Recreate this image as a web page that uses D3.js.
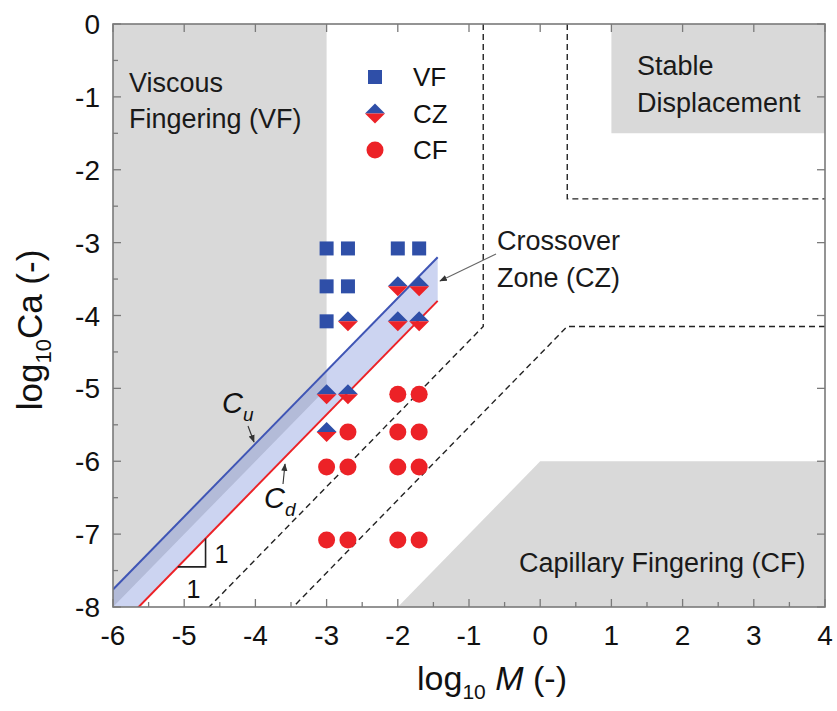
<!DOCTYPE html>
<html>
<head>
<meta charset="utf-8">
<script src="https://cdn.jsdelivr.net/npm/d3@7"></script>
<style>
  html, body { margin: 0; padding: 0; background: #fff; }
  svg { display: block; font-family: "Liberation Sans", Arial, sans-serif; }
</style>
</head>
<body>
<svg id="chart" width="837" height="711"></svg>
<script>
// ---- data ----
const xDomain = [-6, 4];
const yDomain = [0, -8];
const xTicks = [-6, -5, -4, -3, -2, -1, 0, 1, 2, 3, 4];
const yTicks = [0, -1, -2, -3, -4, -5, -6, -7, -8];

// log10 M values of the experiments (columns) and log10 Ca values (rows)
const expM = [-3, -2.7, -2, -1.7];
const expCa = [-3.08, -3.6, -4.08, -5.08, -5.6, -6.08, -7.08];
// observed regime per column, listed row by row
const regimeByColumn = [
  ["VF", "VF", "VF", "CZ", "CZ", "CF", "CF"],
  ["VF", "VF", "CZ", "CZ", "CF", "CF", "CF"],
  ["VF", "CZ", "CZ", "CF", "CF", "CF", "CF"],
  ["VF", "CZ", "CZ", "CF", "CF", "CF", "CF"]
];

// crossover boundaries: log10 Ca = log10 M - c
const cUpper = 1.76;   // C_u
const cLower = 2.36;   // C_d
const cVFedge = 2.0;   // lower edge of viscous fingering region
const bandEndM = -1.44;

// region outlines in (log10 M, log10 Ca)
const vfRegion = [[-6, 0], [-3, 0], [-3, -3 - cVFedge], [-6, -6 - cVFedge]];
const stableRegion = [[1, 0], [4, 0], [4, -1.5], [1, -1.5]];
const cfRegion = [[-2, -8], [0, -6], [4, -6], [4, -8]];
const dashedPaths = [
  [[-0.8, 0], [-0.8, -4.15], [-4.65, -8]],
  [[0.38, 0], [0.38, -2.4], [4, -2.4]],
  [[4, -4.15], [0.38, -4.15], [-3.47, -8]]
];

// ---- layout ----
const svg = d3.select("#chart");
const pLeft = 113, pRight = 825, pTop = 24, pBottom = 607;
const x = d3.scaleLinear().domain(xDomain).range([pLeft, pRight]);
const y = d3.scaleLinear().domain(yDomain).range([pTop, pBottom]);

const GRAY = "#d9d9d9";
const BLUE = "#2f4fa8";
const RED = "#ec2227";
const line = d3.line().x(d => x(d[0])).y(d => y(d[1]));

svg.append("clipPath").attr("id", "plotclip")
  .append("rect").attr("x", pLeft).attr("y", pTop)
  .attr("width", pRight - pLeft).attr("height", pBottom - pTop);

const plot = svg.append("g").attr("clip-path", "url(#plotclip)");

// shaded regimes
[vfRegion, stableRegion, cfRegion].forEach(poly => {
  plot.append("path").attr("d", line(poly) + "Z").attr("fill", GRAY);
});

// crossover band between C_u and C_d
const bandStart = -6;
const band = [
  [bandStart, bandStart - cUpper], [bandEndM, bandEndM - cUpper],
  [bandEndM, bandEndM - cLower], [bandStart, bandStart - cLower]
];
plot.append("path").attr("d", line(band) + "Z")
  .attr("fill", "rgb(105,128,215)").attr("fill-opacity", 0.34);

// boundary lines
plot.append("path")
  .attr("d", line([[bandStart, bandStart - cUpper], [bandEndM, bandEndM - cUpper]]))
  .attr("stroke", "#3f55b5").attr("stroke-width", 2).attr("fill", "none");
plot.append("path")
  .attr("d", line([[bandStart, bandStart - cLower], [bandEndM, bandEndM - cLower]]))
  .attr("stroke", RED).attr("stroke-width", 2).attr("fill", "none");

// dashed regime boundaries
dashedPaths.forEach(p => {
  plot.append("path").attr("d", line(p))
    .attr("stroke", "#222").attr("stroke-width", 1.4)
    .attr("stroke-dasharray", "6,4").attr("fill", "none");
});

// slope triangle on C_d
const triM = -4.7, triCa = -7.45;
svg.append("path")
  .attr("d", line([[triCa + cLower, triCa], [triM, triCa], [triM, triM - cLower]]))
  .attr("stroke", "#222").attr("stroke-width", 1.6).attr("fill", "none");
svg.append("text").attr("x", x(triM) + 9).attr("y", y(triCa) - 4)
  .attr("font-size", 25).attr("fill", "#111").text("1");
svg.append("text").attr("x", x(triM) - 19).attr("y", y(triCa) + 31)
  .attr("font-size", 25).attr("fill", "#111").text("1");

// ---- markers ----
function drawMarker(g, kind, cx, cy) {
  if (kind === "VF") {
    g.append("rect").attr("x", cx - 7).attr("y", cy - 7)
      .attr("width", 14).attr("height", 14).attr("fill", BLUE);
  } else if (kind === "CF") {
    g.append("circle").attr("cx", cx).attr("cy", cy).attr("r", 8.5).attr("fill", RED);
  } else {
    const h = 10;
    g.append("path").attr("d", `M${cx - h},${cy} L${cx},${cy - h} L${cx + h},${cy} Z`).attr("fill", BLUE);
    g.append("path").attr("d", `M${cx - h},${cy} L${cx},${cy + h} L${cx + h},${cy} Z`).attr("fill", RED);
  }
}
const markers = svg.append("g");
expM.forEach((m, i) => {
  expCa.forEach((ca, j) => drawMarker(markers, regimeByColumn[i][j], x(m), y(ca)));
});

// legend
const legendItems = ["VF", "CZ", "CF"];
legendItems.forEach((k, i) => {
  const ly = 77 + i * 36.5;
  drawMarker(svg, k, 375, ly);
  svg.append("text").attr("x", 413).attr("y", ly + 9)
    .attr("font-size", 26).attr("fill", "#111").text(k);
});

// ---- axes ----
const axisColor = "#7a7a7a";
const frame = svg.append("g");
frame.append("rect").attr("x", pLeft).attr("y", pTop)
  .attr("width", pRight - pLeft).attr("height", pBottom - pTop)
  .attr("fill", "none").attr("stroke", axisColor).attr("stroke-width", 1.6);

const xMinor = d3.range(-5.5, 4, 1);
const yMinor = d3.range(-0.5, -8, -1);
const tickG = frame.append("g").attr("stroke", axisColor).attr("stroke-width", 1.3);
xTicks.forEach(v => {
  tickG.append("line").attr("x1", x(v)).attr("x2", x(v)).attr("y1", pBottom).attr("y2", pBottom - 8);
  tickG.append("line").attr("x1", x(v)).attr("x2", x(v)).attr("y1", pTop).attr("y2", pTop + 8);
});
xMinor.forEach(v => {
  tickG.append("line").attr("x1", x(v)).attr("x2", x(v)).attr("y1", pBottom).attr("y2", pBottom - 5);
});
yTicks.forEach(v => {
  tickG.append("line").attr("y1", y(v)).attr("y2", y(v)).attr("x1", pLeft).attr("x2", pLeft + 8);
  tickG.append("line").attr("y1", y(v)).attr("y2", y(v)).attr("x1", pRight).attr("x2", pRight - 8);
});
yMinor.forEach(v => {
  tickG.append("line").attr("y1", y(v)).attr("y2", y(v)).attr("x1", pLeft).attr("x2", pLeft + 5);
});

xTicks.forEach(v => {
  svg.append("text").attr("x", x(v)).attr("y", pBottom + 38)
    .attr("text-anchor", "middle").attr("font-size", 28).attr("fill", "#111")
    .text(v);
});
yTicks.forEach(v => {
  svg.append("text").attr("x", pLeft - 13).attr("y", y(v) + 10)
    .attr("text-anchor", "end").attr("font-size", 28).attr("fill", "#111")
    .text(v);
});

// axis titles
const xt = svg.append("text").attr("x", 492).attr("y", 690)
  .attr("text-anchor", "middle").attr("font-size", 34).attr("fill", "#111");
xt.append("tspan").text("log");
xt.append("tspan").attr("font-size", 21).attr("dy", 9).text("10");
xt.append("tspan").attr("dy", -9).text(" ");
xt.append("tspan").attr("font-style", "italic").text("M");
xt.append("tspan").text(" (-)");

const yt = svg.append("text").attr("transform", "translate(42,330) rotate(-90)")
  .attr("text-anchor", "middle").attr("font-size", 35).attr("fill", "#111");
yt.append("tspan").text("log");
yt.append("tspan").attr("font-size", 22).attr("dy", 9).text("10");
yt.append("tspan").attr("dy", -9).text("Ca (-)");

// ---- region labels ----
function label(lines, tx, ty, lh) {
  lines.forEach((s, i) => {
    svg.append("text").attr("x", tx).attr("y", ty + i * lh)
      .attr("font-size", 27).attr("fill", "#1a1a1a").text(s);
  });
}
label(["Viscous", "Fingering (VF)"], 129, 92, 36);
label(["Stable", "Displacement"], 637, 75, 37);
label(["Capillary Fingering (CF)"], 519, 572, 0);
label(["Crossover", "Zone (CZ)"], 497, 250, 37);

// annotation arrows
const defs = svg.append("defs");
defs.append("marker").attr("id", "arrow").attr("viewBox", "0 0 10 10")
  .attr("refX", 9).attr("refY", 5).attr("markerWidth", 7).attr("markerHeight", 7)
  .attr("orient", "auto")
  .append("path").attr("d", "M0,1 L10,5 L0,9 Z").attr("fill", "#333");
function arrow(x1, y1, x2, y2, color) {
  svg.append("line").attr("x1", x1).attr("y1", y1).attr("x2", x2).attr("y2", y2)
    .attr("stroke", color).attr("stroke-width", 1.1).attr("marker-end", "url(#arrow)");
}
arrow(496, 254, 440, 281, "#666");
arrow(248, 426, 254, 442, "#333");
arrow(283, 484, 285, 464, "#333");

// C_u and C_d labels
function cLabel(sub, tx, ty) {
  const t = svg.append("text").attr("x", tx).attr("y", ty)
    .attr("font-size", 29).attr("font-style", "italic").attr("fill", "#111");
  t.append("tspan").text("C");
  t.append("tspan").attr("font-size", 19).attr("dy", 8).text(sub);
}
cLabel("u", 222, 413);
cLabel("d", 264, 508);
</script>
</body>
</html>
